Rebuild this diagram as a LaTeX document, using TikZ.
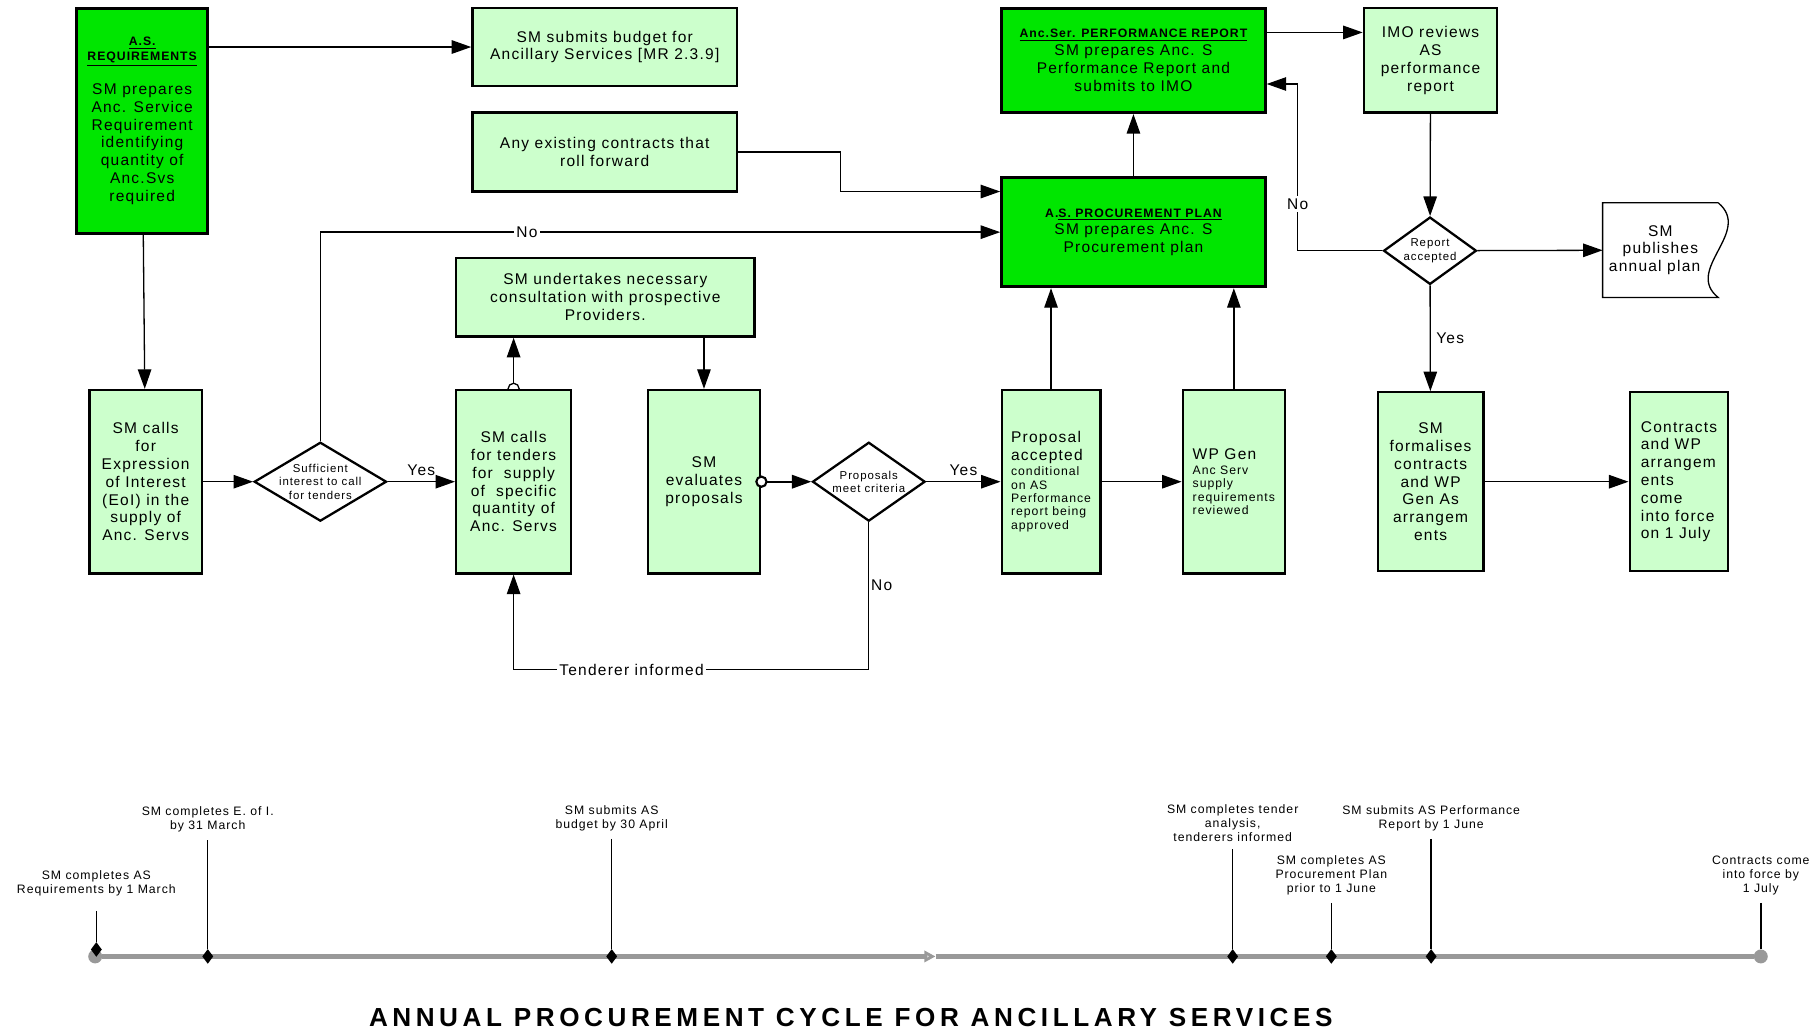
\documentclass[tikz,border=0pt]{standalone}
\usepackage{fontspec}
\setmainfont{Liberation Sans}[LetterSpace=8]
\newfontfamily\titlefont{Liberation Sans}[LetterSpace=17.5]
\usetikzlibrary{arrows.meta, calc, positioning, shapes.geometric}
\definecolor{keygreen}{HTML}{00E600}
\definecolor{palegreen}{HTML}{CCFFCC}
\definecolor{linegray}{HTML}{999999}
\newcommand{\boxfont}{\fontsize{9.5}{10.9}\selectfont}
\newcommand{\smallfont}{\fontsize{7.5}{8.2}\selectfont}
\newcommand{\sm}[1]{{\smallfont #1}}
\newcommand{\hdr}[1]{{\fontsize{7.5}{9}\selectfont\bfseries\underline{#1}}}

\begin{document}
\begin{tikzpicture}[
    x=0.025cm, y=-0.025cm,
    >={Triangle[length=4.2mm, width=2.9mm]},
    every node/.style={text=black},
  ]

  % Frame
  \useasboundingbox (0,0) rectangle (1568,890);

  % --- Styles ---
  \tikzset{
    keybox/.style={draw, line width=1.8pt, fill=keygreen, align=center,
                   inner sep=1pt, font=\boxfont},
    stepbox/.style={draw, line width=1.4pt, fill=palegreen, align=center,
                    inner sep=1pt, font=\boxfont},
    decision/.style={diamond, draw, line width=1.4pt, fill=white, inner sep=0pt},
    dtext/.style={font=\fontsize{7}{8.2}\selectfont, align=center},
    flow/.style={->, line width=0.8pt},
    flowlbl/.style={font=\boxfont, fill=white, inner sep=1.5pt},
    tline/.style={linegray, line width=2.8pt},
    tlend/.style={circle, fill=linegray, inner sep=0pt, minimum size=0.3cm},
    tmark/.style={diamond, fill=black, inner sep=0pt, minimum width=0.24cm,
                  minimum height=0.32cm},
    tick/.style={line width=0.8pt, shorten <=0.17cm},
    tllbl/.style={font=\fontsize{7.5}{8.4}\selectfont, align=center,
                  inner sep=0pt, anchor=south},
  }

  % --- Top row ---
  \node[keybox, minimum width=2.825cm, minimum height=4.85cm] (asreq) at (122.5,104)
    {\hdr{A.S.}\\[-1.7pt] \hdr{REQUIREMENTS}\\[10pt] SM prepares\\ Anc. Service\\
     Requirement\\ identifying\\ quantity of\\ Anc.Svs\\ required};
  \node[stepbox, minimum width=5.7cm, minimum height=1.675cm] (budget) at (521,40.5)
    {SM submits budget for\\ Ancillary Services [MR 2.3.9]};
  \node[stepbox, minimum width=5.7cm, minimum height=1.7cm] (rollfwd) at (521,131)
    {Any existing contracts that\\ roll forward};
  \node[keybox, minimum width=5.675cm, minimum height=2.25cm] (perfrep) at (976.5,52)
    {\hdr{Anc.Ser. PERFORMANCE REPORT}\\ SM prepares Anc. S\\ Performance Report and\\
     submits to IMO};
  \node[stepbox, minimum width=2.875cm, minimum height=2.25cm] (imo) at (1232.5,52)
    {IMO reviews\\ AS\\ performance\\ report};
  \node[keybox, minimum width=5.675cm, minimum height=2.35cm] (procplan) at (976.5,200)
    {{\fontsize{7.5}{9}\selectfont\bfseries A.\underline{S. PROCUREMENT PLAN}}\\
     SM prepares Anc. S\\ Procurement plan};
  \node[decision, minimum width=2cm, minimum height=1.45cm,
        label={[dtext]center:{Report\\ accepted}}] (repok) at (1232,216) {};
  \node[font=\boxfont, align=center, minimum width=2.475cm, minimum height=2.025cm]
    (publish) at (1430.5,215.5) {SM\\ publishes\\ annual plan\hspace*{0.25cm}};
  \node[stepbox, minimum width=6.425cm, minimum height=1.7cm] (consult) at (521.5,256)
    {SM undertakes necessary\\ consultation with prospective\\ Providers.};

  % --- Main row ---
  \node[stepbox, minimum width=2.425cm, minimum height=3.95cm] (eoi) at (125.5,415)
    {SM calls\\ for\\ Expression\\ of Interest\\ (EoI) in the\\ supply of\\ Anc. Servs};
  \node[decision, minimum width=2.85cm, minimum height=1.7cm,
        label={[dtext]center:{Sufficient\\ interest to call\\ for tenders}}] (suff) at (276,415) {};
  \node[stepbox, minimum width=2.475cm, minimum height=3.95cm] (tenders) at (442.5,415)
    {SM calls\\ for tenders\\ for\ \ supply\\ of\ \ specific\\ quantity of\\ Anc. Servs};
  \node[stepbox, minimum width=2.425cm, minimum height=3.95cm] (evaluate) at (606.5,415)
    {SM\\ evaluates\\ proposals};
  \node[decision, minimum width=2.425cm, minimum height=1.7cm,
        label={[dtext]center:{Proposals\\ meet criteria}}] (meets) at (748.5,415) {};
  \node[stepbox, align=left, minimum width=2.125cm, minimum height=3.95cm] (accepted) at (905.5,415)
    {Proposal\\ accepted\\[-1.7pt] \sm{conditional}\\[-2.7pt] \sm{on AS}\\[-2.7pt]
     \sm{Performance}\\[-2.7pt] \sm{report being}\\[-2.7pt] \sm{approved}};
  \node[stepbox, align=left, minimum width=2.2cm, minimum height=3.95cm] (wpgen) at (1063,415)
    {WP Gen\\[-1.7pt] \sm{Anc Serv}\\[-2.7pt] \sm{supply}\\[-2.7pt] \sm{requirements}\\[-2.7pt]
     \sm{reviewed}};
  \node[stepbox, minimum width=2.275cm, minimum height=3.85cm] (formal) at (1232.5,415)
    {SM\\ formalises\\ contracts\\ and WP\\ Gen As\\ arrangem\\ ents};
  \node[stepbox, align=left, minimum width=2.125cm, minimum height=3.85cm] (contracts) at (1446.5,415)
    {Contracts\\ and WP\\ arrangem\\ ents\\ come\\ into force\\ on 1 July};

  % document outline with wavy edge
  \draw[line width=0.8pt] (publish.north east) -- (publish.north west)
    -- (publish.south west) -- (publish.south east)
    .. controls +(-30,-24) and +(30,25) .. (publish.north east);

  % --- Connectors ---
  \draw[flow] (asreq.east |- budget.west) -- (budget.west);
  \draw[flow] (asreq) -- (eoi);
  \draw[flow] (rollfwd.east) -- ++(88,0) |- ($(procplan.west)+(0,-35)$);
  \draw[flow] (suff.north) |- node[flowlbl, pos=0.652] {No} (procplan.west);
  \draw[flow] (eoi) -- (suff);
  \draw[flow] (suff) -- node[above, font=\boxfont] {Yes} (tenders);
  \draw[flow] (tenders.north) -- (tenders.north |- consult.south);
  \begin{scope}
    \clip (tenders.north west) rectangle ($(tenders.north east)+(0,-20)$);
    \draw[line width=0.8pt, fill=white] (tenders.north) circle (0.12cm);
  \end{scope}
  \draw[flow] (consult.south -| evaluate.north) -- (evaluate.north);
  \draw[flow, line width=1.3pt] (evaluate.east) -- (meets.west);
  \draw[line width=1.3pt, fill=white] (evaluate.east) circle (0.11cm);
  \draw[flow] (meets) -- node[above, font=\boxfont] {Yes} (accepted);
  \draw[flow] (meets.south) -- node[right, font=\boxfont, pos=0.43, inner sep=1pt] {No} ++(0,127)
    -| node[flowlbl, pos=0.334] {Tenderer informed} (tenders.south);
  \draw[flow] (accepted.north) -- (accepted.north |- procplan.south);
  \draw[flow] (accepted) -- (wpgen);
  \draw[flow] (wpgen.north) -- (wpgen.north |- procplan.south);
  \draw[flow] (procplan) -- (perfrep);
  \coordinate (prout) at ($(perfrep.north east)!0.24!(perfrep.south east)$);
  \draw[flow] (prout) -- (prout -| imo.west);
  \draw[flow] (imo) -- (repok);
  \draw[flow] (repok.west) -- ++(-73,0)
    |- node[flowlbl, pos=0.14] {No} ($(perfrep.south east)!0.28!(perfrep.north east)$);
  \draw[flow] (repok) -- (publish);
  \draw[flow] (repok) -- node[right, font=\boxfont] {Yes} (formal);
  \draw[flow] (formal) -- (contracts);

  % --- Timeline ---
  \node[tlend] (tstart) at (82,824) {};
  \node[tlend] (tend) at (1517,824) {};
  \coordinate (tmid) at (806,824);
  \draw[tline, -{Triangle[open, length=2.4mm, width=2.4mm, fill=linegray!40]}] (tstart) -- (tmid);
  \draw[tline] (tmid) -- (tend);

  \node[tmark] (d1) at (83,818) {};
  \node[tmark] (d2) at (179,824) {};
  \node[tmark] (d3) at (527,824) {};
  \node[tmark] (d4) at (1062,824) {};
  \node[tmark] (d5) at (1147,824) {};
  \node[tmark] (d6) at (1233,824) {};

  \node[tllbl] (m1) at (83,772) {SM completes AS\\ Requirements by 1 March};
  \node[tllbl] (m2) at (179,717) {SM completes E. of I.\\ by 31 March};
  \node[tllbl] (m3) at (527,716) {SM submits AS\\ budget by 30 April};
  \node[tllbl] (m4) at (1062,725) {SM completes tender\\ analysis,\\ tenderers informed};
  \node[tllbl] (m5) at (1147,771) {SM completes AS\\ Procurement Plan\\ prior to 1 June};
  \node[tllbl] (m6) at (1233,716) {SM submits AS Performance\\ Report by 1 June};
  \node[tllbl] (m7) at (1517,771) {Contracts come\\ into force by\\ 1 July};

  \draw[tick, shorten <=0.32cm] (m1) -- (d1);
  \draw[tick] (m2) -- (d2);
  \draw[tick] (m3) -- (d3);
  \draw[tick] (m4) -- (d4);
  \draw[tick] (m5) -- (d5);
  \draw[tick, line width=1.6pt] (m6) -- (d6);
  \draw[tick, line width=1.6pt] (m7) -- (tend);

  % --- Title ---
  \node[font=\titlefont\bfseries\fontsize{16}{19}\selectfont] (title) at (733,877)
    {ANNUAL PROCUREMENT CYCLE FOR ANCILLARY SERVICES};

\end{tikzpicture}
\end{document}
